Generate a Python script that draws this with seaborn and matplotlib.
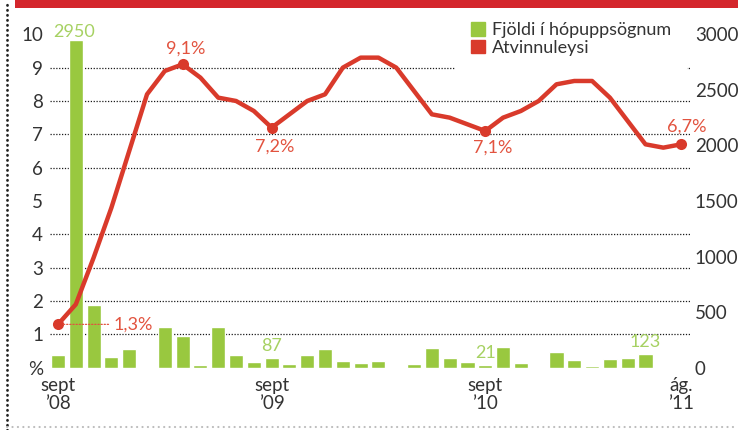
import numpy as np
import pandas as pd
import matplotlib
matplotlib.use("Agg")
import matplotlib.pyplot as plt
import seaborn as sns
from matplotlib.patches import Patch, Rectangle
from matplotlib.lines import Line2D

sns.set_theme(style="white")
plt.rcParams["font.family"] = ["Lato", "DejaVu Sans"]

# monthly data, sept 2008 - aug 2011
month_names = ["sept", "okt", "nóv", "des", "jan", "feb", "mars", "apr",
               "maí", "júní", "júlí", "ág."]
years = [8] * 4 + [9] * 12 + [10] * 12 + [11] * 8
months = [f"{month_names[i % 12]} ’{years[i]:02d}" for i in range(36)]
layoffs = [111, 2950, 560, 93, 165, None, 363, 282, 25, 363, 111, 48,
           87, 31, 115, 171, 59, 40, 59, None, 31, 180, 87, 48,
           21, 190, 40, None, 143, 68, 12, 78, 87, 123, None, None]
unemployment = [1.3, 1.9, 3.3, 4.8, 6.5, 8.2, 8.9, 9.1, 8.7, 8.1, 8.0, 7.7,
                7.2, 7.6, 8.0, 8.2, 9.0, 9.3, 9.3, 9.0, 8.3, 7.6, 7.5, 7.3,
                7.1, 7.5, 7.7, 8.0, 8.5, 8.6, 8.6, 8.1, 7.4, 6.7, 6.6, 6.7]
rate_labels = {0: "1,3%", 7: "9,1%", 12: "7,2%", 24: "7,1%", 35: "6,7%"}
count_labels = {1: "2950", 12: "87", 24: "21", 33: "123"}
xtick_pos = [0, 12, 24, 35]
xtick_labels = ["sept\n’08", "sept\n’09", "sept\n’10", "ág.\n’11"]

GREEN = "#99c83f"
GREEN_TXT = "#a6d162"
RED = "#d93a2b"
RED_TXT = "#e2533f"
DARK = "#333333"

df = pd.DataFrame({"k": range(36), "month": months,
                   "layoffs": layoffs, "rate": unemployment})

fig = plt.figure(figsize=(7.38, 4.30), dpi=100)
ax = fig.add_axes([50 / 738, 62.3 / 430, 640 / 738, 333.4 / 430])

# bars (right scale)
sns.barplot(data=df, x="k", y="layoffs", order=list(range(36)), color=GREEN,
            saturation=1, width=0.79, errorbar=None, ax=ax)
ax.set_ylim(0, 3000)
ax.set_xlim(-0.45, 35.5)
ax.set_yticks(np.arange(0, 3001, 500))
ax.set_yticks(np.arange(0, 3001, 300), minor=True)
ax.yaxis.set_minor_formatter(plt.NullFormatter())
ax.grid(False)
ax.grid(which="minor", axis="y", color="#1a1a1a", lw=0.9, ls=(0, (1, 1.3)))
ax.set_axisbelow(True)
ax.set_xticks(xtick_pos)
ax.set_xticklabels(xtick_labels, fontsize=13.5, color=DARK, linespacing=1.05)
ax.set_xlabel("")
ax.set_ylabel("")
for s in ax.spines.values():
    s.set_visible(False)

for k, txt in count_labels.items():
    big = k == 1
    ax.annotate(txt, xy=(k, layoffs[k]), xytext=(-1 if big else 0, 5.5 if big else 9),
                textcoords="offset points", ha="center", va="center",
                fontsize=13, color=GREEN_TXT,
                bbox=dict(boxstyle="square,pad=0.05", fc="white", ec="none") if big else None)

# unemployment line (left scale)
ax2 = ax.twinx()
sns.lineplot(data=df, x="k", y="rate", color=RED, lw=3.2, marker="o",
             markersize=8, markeredgewidth=0, markevery=list(rate_labels),
             ax=ax2)
ax2.set_ylim(0, 10)
ax2.set_xlim(-0.45, 35.5)
ax2.yaxis.tick_left()
ax2.set_yticks(range(0, 11))
ax2.set_yticklabels(["%"] + [str(i) for i in range(1, 11)])
ax2.tick_params(length=0, labelsize=13.5, labelcolor=DARK, pad=5)
ax2.grid(False)
ax2.set_xlabel("")
ax2.set_ylabel("")
for s in ax2.spines.values():
    s.set_visible(False)

# twinx moves the first axis' ticks to the left; put the count scale on the right
ax.yaxis.tick_right()
ax.tick_params(which="both", length=0)
ax.tick_params(axis="y", labelleft=False, labelright=True, labelsize=13.5,
               labelcolor=DARK, pad=3.5)
ax.tick_params(axis="x", pad=7)

offsets = {7: (2, 11), 12: (2, -14), 24: (5, -12), 35: (4, 13)}
for k, (dx, dy) in offsets.items():
    ax2.annotate(rate_labels[k], xy=(k, unemployment[k]), xytext=(dx, dy),
                 textcoords="offset points", ha="center", va="center",
                 fontsize=13, color=RED_TXT)
ax2.annotate(rate_labels[0], xy=(0, unemployment[0]), xytext=(3.1, unemployment[0]),
             textcoords="data", ha="left", va="center", fontsize=13, color=RED_TXT,
             arrowprops=dict(arrowstyle="-", color=RED_TXT, lw=0.9, ls=(0, (1, 1.5)),
                             shrinkA=1, shrinkB=4))

handles = [Patch(color=GREEN), Patch(color=RED)]
leg = ax2.legend(handles, ["Fjöldi í hópuppsögnum", "Atvinnuleysi"],
                 loc="upper left", bbox_to_anchor=(455 / 738, 1 - 6 / 430),
                 bbox_transform=fig.transFigure, fontsize=13, frameon=True,
                 handlelength=0.75, handleheight=0.75, handletextpad=0.4,
                 labelspacing=0.1, borderpad=0.9, borderaxespad=0)
leg.get_frame().set_facecolor("white")
leg.get_frame().set_edgecolor("none")
leg.get_frame().set_alpha(1)
for t in leg.get_texts():
    t.set_color(DARK)

# page decoration: red header strip and dotted borders
fig.add_artist(Rectangle((15 / 738, 1 - 8 / 430), 1, 8 / 430,
                         transform=fig.transFigure, color="#d4262c", lw=0))
fig.add_artist(Line2D([7 / 738, 7 / 738], [0, 1], transform=fig.transFigure,
                      color="#222222", lw=2, ls=(0, (0.1, 1.7)),
                      dash_capstyle="round"))
fig.add_artist(Line2D([7 / 738, 1], [3 / 430, 3 / 430], transform=fig.transFigure,
                      color="#bbbbbb", lw=1.5, ls=(0, (0.1, 2.5)),
                      dash_capstyle="round"))

fig.savefig("out.png", dpi=100)
